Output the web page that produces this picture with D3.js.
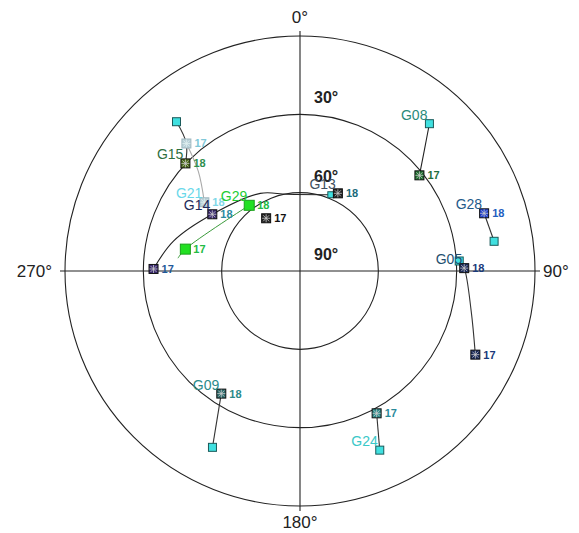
<!DOCTYPE html>
<html><head><meta charset="utf-8">
<script src="https://cdn.jsdelivr.net/npm/d3@7"></script>
<style>body{margin:0;background:#fff}svg{display:block}text{font-family:"Liberation Sans",Arial,sans-serif}</style>
</head><body><svg id="c" width="579" height="533"></svg>
<script>
// ---- data ----
const satellites = ["G15","G21","G14","G29","G13","G08","G28","G05","G09","G24"];
// azimuth (deg) along each track
const trackAz = [
  [320.4,318.3,313.2],
  [318.3,314.4,305.7],
  [270.8,283.3,302.9,332.9,350.4,22.0],
  [276.0,280.8,322.3],
  [327.3,26.0],
  [41.3,45.7,51.3],
  [72.6,81.3],
  [86.4,89.0,103.1,115.5],
  [212.7,206.4],
  [151.7,156.0]
];
// elevation (deg) along each track
const trackEl = [
  [15.8,24.6,29.8],
  [24.6,35.5,44.9],
  [33.9,40.2,50.0,56.6,60.2,58.5],
  [43.0,45.3,58.2],
  [66.0,56.9],
  [14.9,23.4,31.4],
  [16.1,14.8],
  [28.9,27.1,22.7,15.6],
  [34.2,14.6],
  [28.1,14.9]
];
// mark at each track point: "s" = start square, "17"/"18" = hour mark, "" = none
const trackMark = [
  ["s","","18"],
  ["17","","18"],
  ["17","","18","","","s"],
  ["","17","18"],
  ["17","18"],
  ["s","","17"],
  ["18","s"],
  ["s","18","","17"],
  ["18","s"],
  ["17","s"]
];
// index of point where the satellite name is written
const labelIdx = [2,2,2,2,1,0,0,1,0,1];
const elevRings = [0,30,60];
const elevLabels = ["30°","60°","90°"];
const elevLabelVals = [30,60,90];
const azLabels = ["0°","90°","180°","270°"];

// ---- styles ----
const trackColor = ["#333","#aaa","#222","#3a9a3a",null,"#222","#333","#333","#333","#333"];
const markColor  = ["#4a6a1a","#b8d0d8","#3a2a70","#22e022","#222","#1f6f2f","#2040d0","#1a2a5a","#2a6a6a","#2a8a8a"];
const nameColor  = ["#2f6f3f","#6ad8ea","#1e2a5a","#22cc33","#405060","#2a8a7a","#1f5a8a","#1f4f6f","#2a8a8a","#3ac8c8"];
const hourColor  = [["#2f8f4f","#2f8f4f"],["#80c8d8","#80d8e8"],["#1f5a9a","#2a8aa0"],["#22bb44","#22bb44"],["#111","#1a6a7a"],["#1f6f3f","#1f6f3f"],["#1f60c0","#1f60c0"],["#1a3a7a","#1a3a7a"],["#2a8a8a","#2a8a8a"],["#2a8a9a","#2a8a9a"]];

const svg = d3.select("#c");
const cx = 300, cy = 271, R = 235;
const rScale = d3.scaleLinear().domain([90,0]).range([0,R]);
const toXY = (az,el) => { const a = az*Math.PI/180, r = rScale(el); return [cx + r*Math.sin(a), cy - r*Math.cos(a)]; };

// rings
svg.selectAll("circle.ring").data(elevRings).join("circle")
  .attr("cx",cx).attr("cy",cy).attr("r",d=>rScale(d))
  .attr("fill","none").attr("stroke","#222").attr("stroke-width",1.1);
// axes
svg.append("line").attr("x1",cx).attr("x2",cx).attr("y1",cy-R-5).attr("y2",cy+R+5).attr("stroke","#222").attr("stroke-width",1.1);
svg.append("line").attr("x1",cx-R-5).attr("x2",cx+R+5).attr("y1",cy).attr("y2",cy).attr("stroke","#222").attr("stroke-width",1.1);

// azimuth labels
const azPos = [[cx, cy-R-13, "middle"],[cx+R+8, cy+6, "start"],[cx, cy+R+22, "middle"],[cx-R-13, cy+6, "end"]];
azLabels.forEach((t,i)=>{
  svg.append("text").attr("x",azPos[i][0]).attr("y",azPos[i][1]).attr("text-anchor",azPos[i][2])
    .attr("font-size",17).attr("fill","#222").text(t);
});
// elevation labels
elevLabels.forEach((t,i)=>{
  svg.append("text").attr("x",cx+14).attr("y",cy-rScale(elevLabelVals[i])-11)
    .attr("font-size",16).attr("font-weight","bold").attr("fill","#222").text(t);
});

const line = d3.line().curve(d3.curveCatmullRom.alpha(0.5));
// tracks
satellites.forEach((s,i)=>{
  if(!trackColor[i]) return;
  const pts = trackAz[i].map((a,j)=>toXY(a,trackEl[i][j]));
  svg.append("path").attr("d",line(pts)).attr("fill","none")
    .attr("stroke",trackColor[i]).attr("stroke-width", i===3?1:1.1);
});
// marks
satellites.forEach((s,i)=>{
  trackAz[i].forEach((a,j)=>{
    const m = trackMark[i][j]; if(!m) return;
    const [x,y] = toXY(a,trackEl[i][j]);
    const g = svg.append("g").attr("transform",`translate(${x},${y})`);
    if(m==="s"){
      const sz = (i===2)?6:8;
      g.append("rect").attr("x",-sz/2).attr("y",-sz/2).attr("width",sz).attr("height",sz)
        .attr("fill", i===3?"#22e022":"#40e0e0").attr("stroke", i===3?"#1a9a1a":"#1a5a5a").attr("stroke-width",1);
    } else {
      if(i===3){
        g.append("rect").attr("x",-5).attr("y",-5).attr("width",10).attr("height",10)
          .attr("fill","#22e022").attr("stroke","#1aa01a");
      } else {
        g.append("rect").attr("x",-4.5).attr("y",-4.5).attr("width",9).attr("height",9)
          .attr("fill",markColor[i]).attr("stroke", i===1?"#a0b8c0":"#111").attr("stroke-width",1);
        g.append("path").attr("d","M-3,-3L3,3M-3,3L3,-3M0,-4L0,4M-4,0L4,0")
          .attr("stroke", i===1?"#e0f0f0":"#ccc").attr("stroke-width",0.8);
      }
      g.append("text").attr("x",8).attr("y",4).attr("font-size",11).attr("font-weight","bold")
        .attr("fill",hourColor[i][m==="17"?0:1]).text(m);
    }
  });
});
// satellite names
satellites.forEach((s,i)=>{
  const j = labelIdx[i];
  const [x,y] = toXY(trackAz[i][j],trackEl[i][j]);
  svg.append("text").attr("x",x-2).attr("y",y-4).attr("text-anchor","end")
    .attr("font-size",14).attr("fill",nameColor[i]).text(s);
});
</script></body></html>
